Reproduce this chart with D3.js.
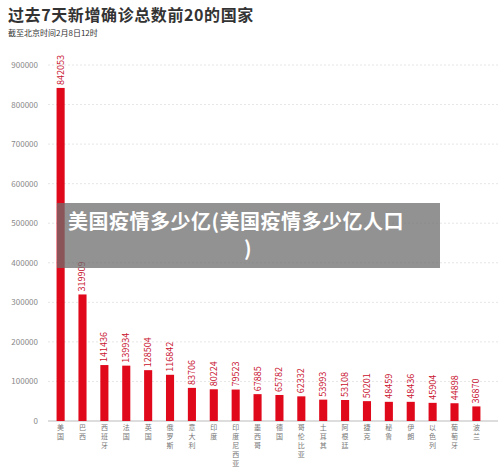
<!DOCTYPE html>
<html><head><meta charset="utf-8">
<script src="https://cdn.jsdelivr.net/npm/d3@7"></script>
<style>body{margin:0;background:#fff}svg{font-family:"Noto Sans CJK SC","Noto Sans",sans-serif}</style>
</head><body>
<svg id="c" width="500" height="472"></svg>
<script>
const countries = ['美国','巴西','西班牙','法国','英国','俄罗斯','意大利','印度','印度尼西亚','墨西哥','德国','哥伦比亚','土耳其','阿根廷','捷克','秘鲁','伊朗','以色列','葡萄牙','波兰']
const cases = [842053,319909,141436,139934,128504,116842,83706,80224,79523,67885,65782,62332,53993,53108,50201,48459,48436,45904,44898,36870]
const yTicks = [0,100000,200000,300000,400000,500000,600000,700000,800000,900000]

const svg = d3.select('#c')
const x = d3.scaleBand().domain(countries).range([50, 487]).paddingInner(0.63).paddingOuter(0.3)
const y = d3.scaleLinear().domain([0, 900000]).range([421, 65])

svg.append('text').attr('x', 8).attr('y', 21).attr('font-size', 16).attr('font-weight', 'bold').attr('fill', '#333').attr('letter-spacing', 0.6).text('过去7天新增确诊总数前20的国家')
svg.append('text').attr('x', 8).attr('y', 36).attr('font-size', 8).attr('fill', '#333').text('截至北京时间2月8日12时')

const grid = svg.append('g')
grid.selectAll('line').data(yTicks).join('line')
  .attr('x1', 48).attr('x2', 498).attr('y1', d => y(d)).attr('y2', d => y(d))
  .attr('stroke', d => d === 0 ? '#bbb' : '#e6e6e6').attr('stroke-dasharray', d => d === 0 ? null : '2,2')
grid.selectAll('text').data(yTicks).join('text')
  .attr('x', 38).attr('y', d => y(d) + 3).attr('text-anchor', 'end').attr('font-size', 8).attr('fill', '#888').text(d => d)

svg.selectAll('rect.bar').data(cases).join('rect').attr('class', 'bar')
  .attr('x', (d, i) => x(countries[i])).attr('width', x.bandwidth())
  .attr('y', d => y(d)).attr('height', d => y(0) - y(d)).attr('fill', '#e0091c')

svg.selectAll('text.val').data(cases).join('text').attr('class', 'val')
  .attr('transform', (d, i) => `translate(${x(countries[i]) + x.bandwidth() / 2 + 3},${y(d) - 3}) rotate(-90)`)
  .attr('font-size', 9).attr('fill', '#c8102e').text(d => d)

const chars = countries.flatMap(d => d.split('').map((ch, k) => ({ c: d, ch, k })))
svg.selectAll('text.cat').data(chars).join('text').attr('class', 'cat')
  .attr('font-size', 7).attr('fill', '#777').attr('text-anchor', 'middle')
  .attr('x', d => x(d.c) + x.bandwidth() / 2).attr('y', d => 430 + d.k * 9).text(d => d.ch)

svg.append('rect').attr('x', 57).attr('y', 203).attr('width', 383).attr('height', 65).attr('fill', 'rgba(110,110,110,0.75)')
svg.append('text').attr('x', 68).attr('y', 229).attr('font-size', 20).attr('font-weight', 'bold').attr('fill', '#fff').attr('letter-spacing', 0.5).text('美国疫情多少亿(美国疫情多少亿人口')
svg.append('text').attr('x', 244).attr('y', 256).attr('font-size', 20).attr('font-weight', 'bold').attr('fill', '#fff').text(')')
</script>
</body></html>
